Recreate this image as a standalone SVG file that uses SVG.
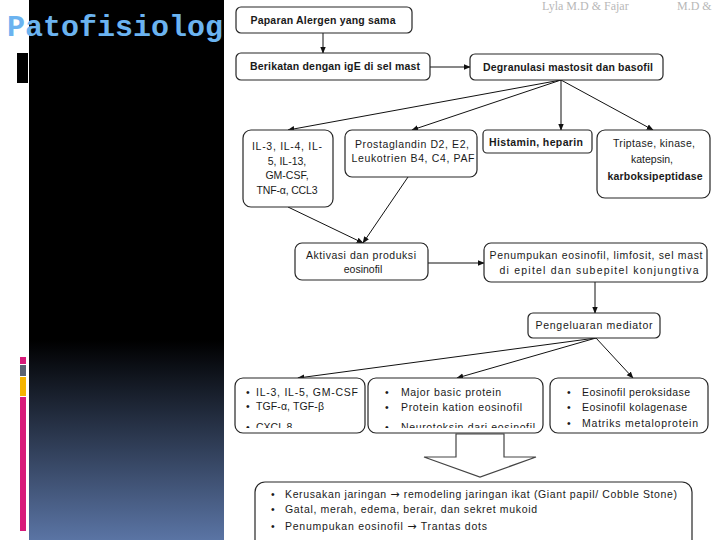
<svg xmlns="http://www.w3.org/2000/svg" width="720" height="540" viewBox="0 0 720 540">
<defs>
<linearGradient id="panel" x1="0" y1="0" x2="0" y2="1">
<stop offset="0" stop-color="#000"/>
<stop offset="0.63" stop-color="#000"/>
<stop offset="1" stop-color="#5a74a4"/>
</linearGradient>
<marker id="ah" viewBox="0 0 10 10" refX="9" refY="5" markerWidth="7" markerHeight="7" orient="auto" markerUnits="userSpaceOnUse">
<path d="M0,1 L10,5 L0,9 z" fill="#111"/>
</marker>
<clipPath id="cA"><rect x="235" y="378" width="130" height="50"/></clipPath>
<clipPath id="cB"><rect x="368" y="378" width="175" height="50"/></clipPath>
<clipPath id="cC"><rect x="550" y="378" width="158" height="51"/></clipPath>
<style>
.box{fill:#fff;stroke:#262626;stroke-width:1.2}
.t{font-family:"Liberation Sans",Arial,sans-serif;font-size:10.5px;fill:#1a1a1a}
.b{font-weight:bold}
.c{text-anchor:middle}
.ar{font-family:"DejaVu Sans",sans-serif;font-size:11px}
.ln{stroke:#111;stroke-width:1;fill:none;marker-end:url(#ah)}
</style>
</defs>
<rect width="720" height="540" fill="#fff"/>
<g id="slide">
<rect x="29" y="0" width="195" height="540" fill="url(#panel)"/>
<rect x="17" y="53" width="11" height="30" fill="#000"/>
<rect x="20" y="357" width="6" height="7" fill="#d81b7a"/>
<rect x="20" y="365" width="6" height="11" fill="#5a6272"/>
<rect x="20" y="377" width="6" height="19" fill="#f5b400"/>
<rect x="20" y="397" width="6" height="134" fill="#d81b7a"/>
<text x="7" y="36" font-family="'Liberation Mono','DejaVu Sans Mono',monospace" font-size="30" font-weight="bold" fill="#6bb3f0">Patofisiolog</text>
</g>
<rect x="224" y="0" width="496" height="540" fill="#fff"/>
<text x="542" y="10" font-family="'Liberation Serif',serif" font-size="12" fill="#b8b8b8">Lyla M.D &amp; Fajar</text>
<text x="677" y="10" font-family="'Liberation Serif',serif" font-size="12" fill="#b8b8b8">M.D &amp;</text>

<g id="connectors">
<path class="ln" d="M323,33 L323,53"/>
<path class="ln" d="M430,67 L470,67"/>
<path class="ln" d="M561,80 L288,130"/>
<path class="ln" d="M561,80 L412,130"/>
<path class="ln" d="M561,80 L561,130"/>
<path class="ln" d="M561,80 L653,130"/>
<path class="ln" d="M288,207 L363,243"/>
<path class="ln" d="M408,177 L363,243"/>
<path class="ln" d="M428,263 L484,263"/>
<path class="ln" d="M595,282 L595,313"/>
<path class="ln" d="M596,338 L298,378"/>
<path class="ln" d="M596,338 L457,378"/>
<path class="ln" d="M596,338 L633,378"/>
<polygon points="456,434 504,434 504,457 536,457 480,477 424,457 456,457" fill="#fff" stroke="#444" stroke-width="1.2"/>
</g>

<g id="n1"><rect class="box" x="236" y="7" width="176" height="26" rx="5"/>
<text class="t b c" x="323" y="24" textLength="145" lengthAdjust="spacing">Paparan Alergen yang sama</text></g>
<g id="n2"><rect class="box" x="236" y="53" width="194" height="27" rx="5"/>
<text class="t b c" x="335" y="70" textLength="170" lengthAdjust="spacing">Berikatan dengan igE di sel mast</text></g>
<g id="n3"><rect class="box" x="470" y="54" width="193" height="26" rx="5"/>
<text class="t b c" x="568" y="71" textLength="170" lengthAdjust="spacing">Degranulasi mastosit dan basofil</text></g>
<g id="n4"><rect class="box" x="243" y="130" width="90" height="77" rx="8"/>
<text class="t c" x="287" y="150" textLength="70" lengthAdjust="spacing">IL-3, IL-4, IL-</text>
<text class="t c" x="287" y="164.5">5, IL-13,</text>
<text class="t c" x="287" y="179">GM-CSF,</text>
<text class="t c" x="287" y="193.5" textLength="61" lengthAdjust="spacing">TNF-α, CCL3</text></g>
<g id="n5"><rect class="box" x="345" y="130" width="132" height="47" rx="7"/>
<text class="t c" x="412" y="148" textLength="114" lengthAdjust="spacing">Prostaglandin D2, E2,</text>
<text class="t c" x="413" y="162" textLength="123" lengthAdjust="spacing">Leukotrien B4, C4, PAF</text></g>
<g id="n6"><rect class="box" x="483" y="130" width="109" height="23" rx="4"/>
<text class="t b c" x="536" y="146" textLength="94" lengthAdjust="spacing">Histamin, heparin</text></g>
<g id="n7"><rect class="box" x="597" y="130" width="113" height="68" rx="8"/>
<text class="t c" x="654" y="147" textLength="82" lengthAdjust="spacing">Triptase, kinase,</text>
<text class="t c" x="652" y="163">katepsin,</text>
<text class="t b c" x="655" y="180" textLength="95" lengthAdjust="spacing">karboksipeptidase</text></g>
<g id="n8"><rect class="box" x="295" y="243" width="133" height="37" rx="7"/>
<text class="t c" x="361" y="259" textLength="110" lengthAdjust="spacing">Aktivasi dan produksi</text>
<text class="t c" x="363" y="273">eosinofil</text></g>
<g id="n9"><rect class="box" x="484" y="243" width="223" height="39" rx="7"/>
<text class="t c" x="596" y="259" textLength="213" lengthAdjust="spacing">Penumpukan eosinofil, limfosit, sel mast</text>
<text class="t c" x="599" y="274" textLength="199" lengthAdjust="spacing">di epitel dan subepitel konjungtiva</text></g>
<g id="n10"><rect class="box" x="528" y="313" width="132" height="25" rx="5"/>
<text class="t c" x="594" y="329" textLength="117" lengthAdjust="spacing">Pengeluaran mediator</text></g>
<g id="n11"><rect class="box" x="235" y="378" width="130" height="55" rx="8"/>
<g clip-path="url(#cA)">
<text class="t" x="246" y="396">•</text><text class="t" x="256" y="396" textLength="102" lengthAdjust="spacing">IL-3, IL-5, GM-CSF</text>
<text class="t" x="246" y="410">•</text><text class="t" x="256" y="410" textLength="68" lengthAdjust="spacing">TGF-α, TGF-β</text>
<text class="t" x="246" y="431">•</text><text class="t" x="256" y="431">CXCL 8</text></g></g>
<g id="n12"><rect class="box" x="368" y="378" width="175" height="55" rx="8"/>
<g clip-path="url(#cB)">
<text class="t" x="385" y="396">•</text><text class="t" x="401" y="396" textLength="100" lengthAdjust="spacing">Major basic protein</text>
<text class="t" x="385" y="411">•</text><text class="t" x="401" y="411" textLength="121" lengthAdjust="spacing">Protein kation eosinofil</text>
<text class="t" x="385" y="431">•</text><text class="t" x="401" y="431" textLength="134" lengthAdjust="spacing">Neurotoksin dari eosinofil</text></g></g>
<g id="n13"><rect class="box" x="550" y="378" width="158" height="55" rx="8"/>
<g clip-path="url(#cC)">
<text class="t" x="567" y="396">•</text><text class="t" x="582" y="396" textLength="108" lengthAdjust="spacing">Eosinofil peroksidase</text>
<text class="t" x="567" y="411">•</text><text class="t" x="582" y="411" textLength="105" lengthAdjust="spacing">Eosinofil kolagenase</text>
<text class="t" x="567" y="427">•</text><text class="t" x="582" y="427" textLength="116" lengthAdjust="spacing">Matriks metaloprotein</text></g></g>
<g id="n14"><rect class="box" x="255" y="482" width="437" height="80" rx="10"/>
<text class="t" x="271" y="498">•</text><text class="t" x="285" y="498" textLength="392" lengthAdjust="spacing">Kerusakan jaringan <tspan class="ar">→</tspan> remodeling jaringan ikat (Giant papil/ Cobble Stone)</text>
<text class="t" x="271" y="513">•</text><text class="t" x="285" y="513" textLength="252" lengthAdjust="spacing">Gatal, merah, edema, berair, dan sekret mukoid</text>
<text class="t" x="271" y="530">•</text><text class="t" x="285" y="530" textLength="202" lengthAdjust="spacing">Penumpukan eosinofil <tspan class="ar">→</tspan> Trantas dots</text></g>
</svg>
